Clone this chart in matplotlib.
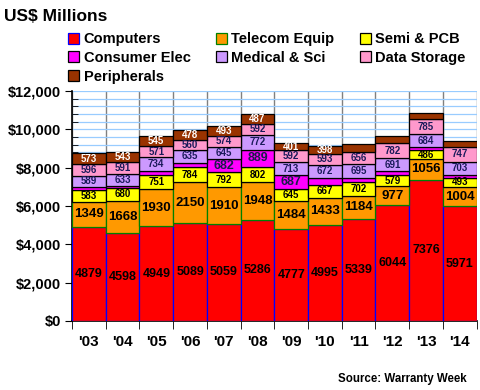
import matplotlib.pyplot as plt
from matplotlib.ticker import MultipleLocator, FuncFormatter

plt.rcParams['font.family'] = ['Liberation Sans', 'DejaVu Sans']
plt.rcParams['font.weight'] = 'bold'

# data (US$ millions)
years = ["'03", "'04", "'05", "'06", "'07", "'08", "'09", "'10", "'11", "'12", "'13", "'14"]
computers = [4879, 4598, 4949, 5089, 5059, 5286, 4777, 4995, 5339, 6044, 7376, 5971]
telecom = [1349, 1668, 1930, 2150, 1910, 1948, 1484, 1433, 1184, 977, 1056, 1004]
semi = [583, 680, 751, 784, 792, 802, 645, 667, 702, 579, 486, 493]
consumer = [180, 110, 170, 240, 682, 889, 687, 371, 247, 197, 138, 141]
medical = [589, 633, 734, 635, 645, 772, 713, 672, 695, 691, 684, 703]
storage = [596, 591, 571, 560, 574, 592, 592, 593, 656, 782, 785, 747]
peripherals = [573, 543, 545, 478, 493, 487, 401, 398, 410, 380, 310, 315]

# which segments carry a value label in the original
consumer_shown = [False, False, False, False, True, True, True, False, False, False, False, False]
peripherals_shown = [True] * 8 + [False] * 4

series = [
    ("Computers", computers, '#FF0000', '#0000FF', 'black', 9, [True] * 12),
    ("Telecom Equip", telecom, '#FF9900', '#008000', 'black', 9.5, [True] * 12),
    ("Semi & PCB", semi, '#FFFF00', 'black', 'black', 7, [True] * 12),
    ("Consumer Elec", consumer, '#FF00FF', 'black', '#1a1a4a', 9, consumer_shown),
    ("Medical & Sci", medical, '#CC99FF', 'black', '#1a1a5a', 7, [True] * 12),
    ("Data Storage", storage, '#FF99CC', 'black', '#1a1a5a', 7, [True] * 12),
    ("Peripherals", peripherals, '#993300', 'black', 'white', 7, peripherals_shown),
]

fig = plt.figure(figsize=(4.8, 3.9), dpi=100)
ax = fig.add_axes([0.15, 0.177, 0.843, 0.59])

x = list(range(len(years)))
bottom = [0] * len(years)
handles = {}
for name, vals, fc, ec, tc, fs, shown in series:
    bars = ax.bar(x, vals, width=1.0, bottom=bottom, color=fc, edgecolor=ec,
                  linewidth=0.9, label=name, zorder=3)
    handles[name] = bars
    for i, v in enumerate(vals):
        if shown[i]:
            ax.text(i, bottom[i] + v / 2, str(v), ha='center', va='center',
                    fontsize=fs, color=tc, fontweight='bold', zorder=4)
    bottom = [b + v for b, v in zip(bottom, vals)]

ax.set_xlim(-0.5, len(years) - 0.5)
ax.set_ylim(0, 12000)

ax.set_xticks(x)
ax.set_xticklabels(years, fontsize=11, fontweight='bold')
ax.set_xticks([i - 0.5 for i in range(len(years) + 1)], minor=True)
ax.tick_params(axis='x', which='major', length=0, pad=10)
ax.tick_params(axis='x', which='minor', length=6, direction='out', color='black')

ax.yaxis.set_major_locator(MultipleLocator(2000))
ax.yaxis.set_minor_locator(MultipleLocator(400))
ax.yaxis.set_major_formatter(FuncFormatter(lambda v, p: '${:,.0f}'.format(v)))
ax.tick_params(axis='y', which='major', length=5, direction='out', labelsize=10.5, pad=3)
ax.tick_params(axis='y', which='minor', length=4, direction='in')
for lab in ax.get_yticklabels():
    lab.set_fontweight('bold')

ax.grid(axis='y', which='both', color='#99CCFF', linewidth=0.9, zorder=0)
ax.grid(axis='x', which='minor', color='#808080', linewidth=1.0, zorder=0)
ax.grid(axis='x', which='major', visible=False)
ax.set_axisbelow(True)

for s in ['top', 'right']:
    ax.spines[s].set_visible(False)
ax.spines['left'].set_linewidth(1.2)
ax.spines['bottom'].set_linewidth(1.2)

# legend laid out row by row (matplotlib fills columns first)
order = ["Computers", "Consumer Elec", "Peripherals", "Telecom Equip",
         "Medical & Sci", "Semi & PCB", "Data Storage"]
fig.legend([handles[n] for n in order], order, ncol=3, loc='upper left',
           bbox_to_anchor=(0.127, 0.936), frameon=False,
           handlelength=0.75, handleheight=0.75, handletextpad=0.3,
           columnspacing=1.75, labelspacing=0.32, borderpad=0,
           prop={'weight': 'bold', 'size': 10.5})

fig.text(0.008, 0.958, 'US$ Millions', fontsize=12.5, fontweight='bold',
         ha='left', va='center')
fig.text(0.973, 0.028, 'Source: Warranty Week', fontsize=8.3, fontweight='bold',
         ha='right', va='center')

fig.savefig('out.png', dpi=100)
